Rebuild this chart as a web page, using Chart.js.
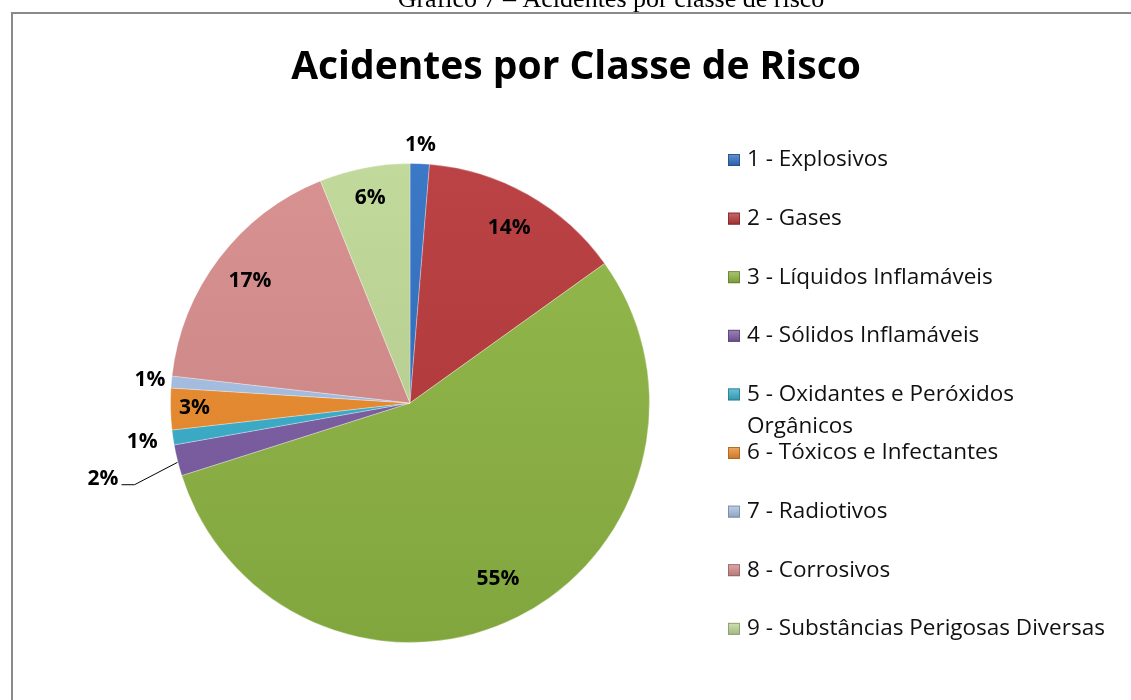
<!DOCTYPE html>
<html lang="pt">
<head>
<meta charset="utf-8">
<title>Acidentes por Classe de Risco</title>
<script src="https://cdn.jsdelivr.net/npm/chart.js@4.4.1/dist/chart.umd.min.js"></script>
<style>
  html, body { margin: 0; padding: 0; background: #fff; }
  #wrap { position: relative; width: 1131px; height: 700px; }
</style>
</head>
<body>
<div id="wrap"><canvas id="grafico"></canvas></div>
<script>
// dados (percentuais por classe de risco)
const legenda = 'Gráfico 7 – Acidentes por classe de risco';
const titulo = 'Acidentes por Classe de Risco';
const categorias = [
    '1 - Explosivos',
    '2 - Gases',
    '3 - Líquidos Inflamáveis',
    '4 - Sólidos Inflamáveis',
    '5 - Oxidantes e Peróxidos Orgânicos',
    '6 - Tóxicos e Infectantes',
    '7 - Radiotivos',
    '8 - Corrosivos',
    '9 - Substâncias Perigosas Diversas'
];
const percentuais = [1.3, 13.8, 55.0, 2.1, 1.0, 2.8, 0.8, 17.1, 6.1];
const cores = ['#2F6FC1', '#B7373A', '#8DB443', '#7B5CA3', '#3AAFCC', '#EC8B2C', '#A7C0E4', '#D68B8B', '#BED796'];

// posição radial de cada rótulo (fração do raio)
const fatorRotulo = [1.08, 0.84, 0.82, 1.32, 1.13, 0.9, 1.09, 0.84, 0.87];

const FONTE = '"Open Sans", "Noto Sans", sans-serif';

function ajustar(hex, f) {
    const n = parseInt(hex.slice(1), 16);
    let r = (n >> 16) & 255, g = (n >> 8) & 255, b = n & 255;
    const m = c => f >= 0 ? Math.round(c + (255 - c) * f) : Math.round(c * (1 + f));
    return `rgb(${m(r)},${m(g)},${m(b)})`;
}

function gradiente(ctx, area, cor) {
    const g = ctx.createLinearGradient(0, area.top, 0, area.bottom);
    g.addColorStop(0, ajustar(cor, 0.06));
    g.addColorStop(1, ajustar(cor, -0.08));
    return g;
}

// moldura, legenda do gráfico e título
const pluginFundo = {
    id: 'fundo',
    beforeDraw(chart) {
        const ctx = chart.ctx;
        ctx.save();
        ctx.fillStyle = '#000';
        ctx.font = '26px "Liberation Serif", "DejaVu Serif", serif';
        ctx.textAlign = 'center';
        ctx.textBaseline = 'alphabetic';
        ctx.fillText(legenda, 611, 7);

        ctx.strokeStyle = '#8a8a8a';
        ctx.lineWidth = 2;
        ctx.beginPath();
        ctx.moveTo(12, 701);
        ctx.lineTo(12, 13);
        ctx.lineTo(1135, 13);
        ctx.stroke();

        ctx.font = 'bold 39px ' + FONTE;
        ctx.fillText(titulo, 576, 79);
        ctx.restore();
    }
};

// rótulos percentuais e linha de chamada
const pluginRotulos = {
    id: 'rotulos',
    afterDatasetsDraw(chart) {
        const ctx = chart.ctx;
        const meta = chart.getDatasetMeta(0);
        const total = percentuais.reduce((a, b) => a + b, 0);
        ctx.save();
        ctx.font = 'bold 21px ' + FONTE;
        ctx.fillStyle = '#000';
        ctx.textAlign = 'center';
        ctx.textBaseline = 'middle';
        meta.data.forEach((arc, i) => {
            const p = arc.getProps(['x', 'y', 'startAngle', 'endAngle', 'outerRadius'], true);
            const meio = (p.startAngle + p.endAngle) / 2;
            const r = p.outerRadius * fatorRotulo[i];
            const lx = p.x + Math.cos(meio) * r;
            const ly = p.y + Math.sin(meio) * r;
            const txt = Math.round(percentuais[i] / total * 100) + '%';
            ctx.fillText(txt, lx, ly);
            if (fatorRotulo[i] > 1.2) {
                const w = ctx.measureText(txt).width;
                const ex = p.x + Math.cos(meio) * p.outerRadius;
                const ey = p.y + Math.sin(meio) * p.outerRadius;
                ctx.strokeStyle = '#000';
                ctx.lineWidth = 1;
                ctx.beginPath();
                ctx.moveTo(lx + w / 2 + 3, ly + 6);
                ctx.lineTo(lx + w / 2 + 16, ly + 6);
                ctx.lineTo(ex, ey + 2);
                ctx.stroke();
            }
        });
        ctx.restore();
    }
};

// legenda à direita
const pluginLegenda = {
    id: 'legendaDireita',
    afterDraw(chart) {
        const ctx = chart.ctx;
        const x0 = 728, y0 = 160, passo = 58.6, maxW = 372;
        ctx.save();
        ctx.font = '22.5px ' + FONTE;
        ctx.textBaseline = 'middle';
        ctx.textAlign = 'left';
        categorias.forEach((cat, i) => {
            const y = y0 + i * passo;
            const g = ctx.createLinearGradient(0, y - 6, 0, y + 6);
            g.addColorStop(0, ajustar(cores[i], 0.25));
            g.addColorStop(1, ajustar(cores[i], -0.15));
            ctx.fillStyle = g;
            ctx.fillRect(x0, y - 6, 12, 12);
            ctx.strokeStyle = ajustar(cores[i], -0.3);
            ctx.lineWidth = 0.8;
            ctx.strokeRect(x0 + 0.5, y - 5.5, 11, 11);

            // quebra de linha simples
            const palavras = cat.split(' ');
            const linhas = [];
            let atual = '';
            palavras.forEach(pw => {
                const t = atual ? atual + ' ' + pw : pw;
                if (ctx.measureText(t).width > maxW && atual) {
                    linhas.push(atual);
                    atual = pw;
                } else {
                    atual = t;
                }
            });
            linhas.push(atual);
            ctx.fillStyle = '#111';
            linhas.forEach((l, k) => ctx.fillText(l, x0 + 19, y + k * 32));
        });
        ctx.restore();
    }
};

new Chart(document.getElementById('grafico'), {
    type: 'pie',
    data: {
        labels: categorias,
        datasets: [{
            data: percentuais,
            backgroundColor: c => {
                const area = c.chart.chartArea;
                if (!area) return cores[c.dataIndex];
                return gradiente(c.chart.ctx, area, cores[c.dataIndex]);
            },
            borderColor: 'rgba(255,255,255,0.3)',
            borderWidth: 1
        }]
    },
    options: {
        responsive: true,
        maintainAspectRatio: false,
        animation: false,
        layout: {
            padding: { left: 170, top: 163, right: 481, bottom: 57 }
        },
        plugins: {
            legend: { display: false },
            title: { display: false },
            tooltip: { enabled: false }
        }
    },
    plugins: [pluginFundo, pluginRotulos, pluginLegenda]
});
</script>
</body>
</html>
